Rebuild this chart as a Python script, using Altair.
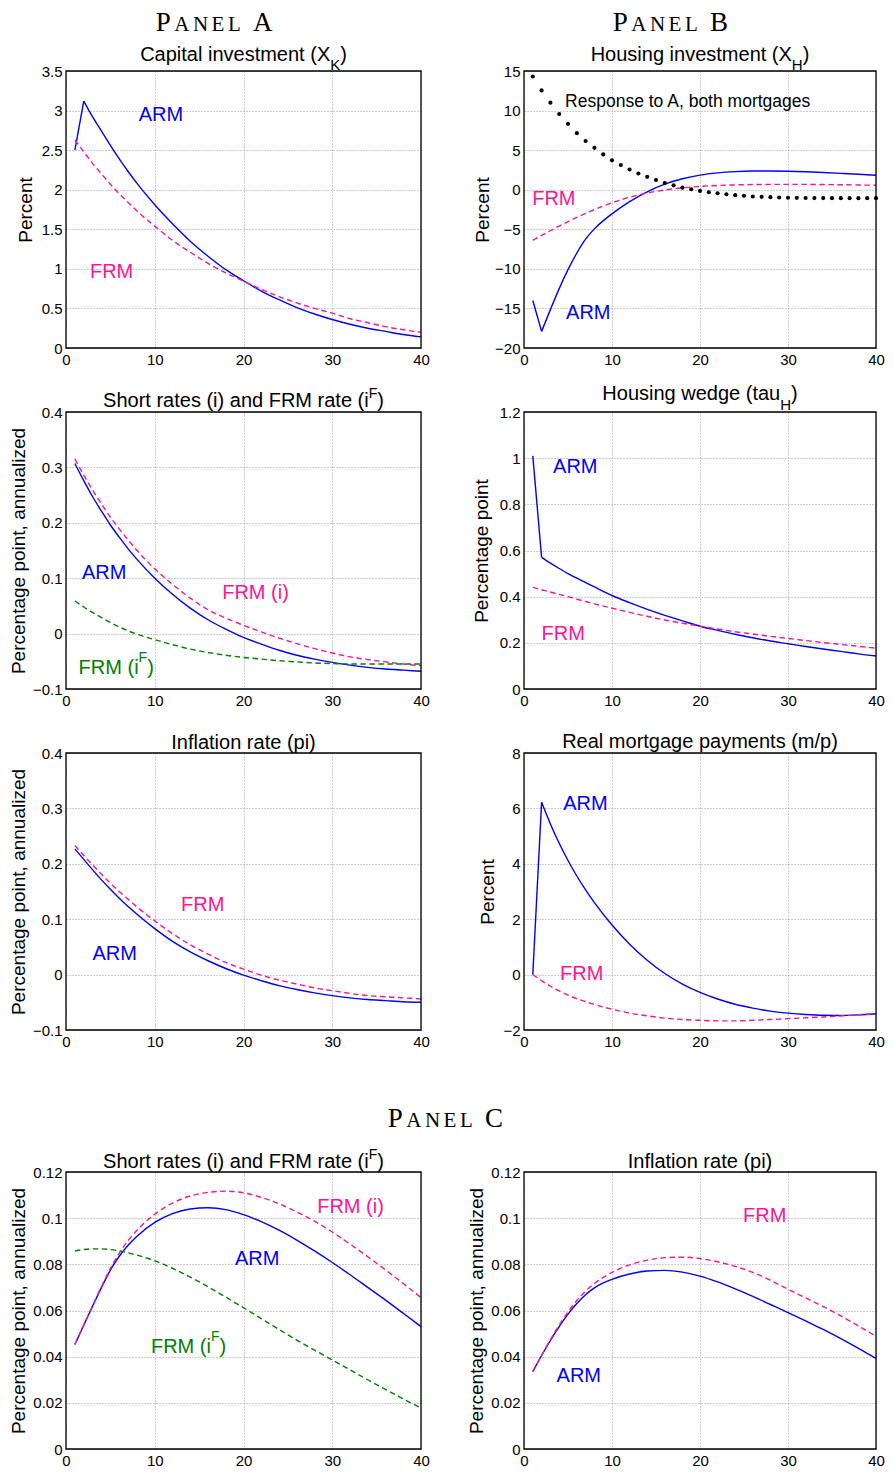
import altair as alt
import pandas as pd

# ---------------- data ----------------
quarters = [1, 2, 3, 4, 5, 6, 7, 8, 10, 12, 14, 16, 18, 20, 22, 24, 26, 28, 30, 32, 34, 36, 38, 40]
quarters_all = list(range(1, 41))

# Panel A, row 1: Capital investment
capital_arm = [2.50, 3.12, 2.92, 2.74, 2.56, 2.39, 2.23, 2.08, 1.81, 1.57, 1.35, 1.16, 0.99, 0.85,
               0.72, 0.61, 0.51, 0.43, 0.36, 0.30, 0.25, 0.21, 0.17, 0.14]
capital_frm = [2.63, 2.48, 2.33, 2.20, 2.07, 1.95, 1.84, 1.73, 1.54, 1.36, 1.21, 1.07, 0.95, 0.845,
               0.74, 0.65, 0.57, 0.50, 0.44, 0.37, 0.32, 0.27, 0.23, 0.20]

# Panel B, row 1: Housing investment
housing_arm = [-14.0, -17.9, -15.15, -12.5, -10.1, -8.0, -6.25, -4.95, -3.05, -1.5, -0.26, 0.70, 1.38, 1.85,
               2.13, 2.29, 2.36, 2.37, 2.34, 2.27, 2.18, 2.07, 1.95, 1.82]
housing_frm = [-6.4, -5.78, -5.18, -4.6, -4.04, -3.5, -2.99, -2.51, -1.65, -0.95, -0.42, -0.03, 0.24, 0.42,
               0.54, 0.61, 0.65, 0.67, 0.68, 0.67, 0.65, 0.63, 0.60, 0.56]
housing_tech = [14.3, 12.55, 11.0, 9.56, 8.32, 7.15, 6.16, 5.29, 4.46, 3.71, 3.13, 2.55, 2.05, 1.63,
                1.22, 0.84, 0.55, 0.26, 0.06, -0.15, -0.32, -0.44, -0.57, -0.69, -0.77, -0.86, -0.90,
                -0.94, -0.98, -1.01, -1.03, -1.05, -1.06, -1.06, -1.07, -1.07, -1.07, -1.07, -1.07, -1.07]

# Panel A, row 2: Short rates and FRM rate
rates_arm = [0.307, 0.276, 0.247, 0.221, 0.196, 0.174, 0.153, 0.134, 0.100, 0.071, 0.046, 0.025, 0.008,
             -0.007, -0.019, -0.030, -0.039, -0.046, -0.052, -0.057, -0.061, -0.064, -0.066, -0.068]
rates_frm_i = [0.315, 0.286, 0.259, 0.234, 0.210, 0.189, 0.169, 0.150, 0.117, 0.089, 0.064, 0.043, 0.028,
               0.015, 0.003, -0.008, -0.018, -0.027, -0.035, -0.042, -0.047, -0.051, -0.055, -0.058]
rates_frm_if = [0.059, 0.048, 0.038, 0.029, 0.020, 0.012, 0.005, -0.001, -0.011, -0.020, -0.028, -0.034,
                -0.039, -0.043, -0.046, -0.049, -0.051, -0.053, -0.054, -0.055, -0.055, -0.055, -0.055, -0.055]

# Panel B, row 2: Housing wedge
wedge_arm = [1.01, 0.57, 0.545, 0.522, 0.500, 0.480, 0.461, 0.442, 0.405, 0.374, 0.345, 0.319, 0.295,
             0.272, 0.254, 0.237, 0.222, 0.208, 0.196, 0.184, 0.173, 0.163, 0.152, 0.143]
wedge_frm = [0.44, 0.43, 0.42, 0.41, 0.40, 0.389, 0.379, 0.369, 0.350, 0.332, 0.315, 0.299, 0.285,
             0.272, 0.260, 0.248, 0.238, 0.228, 0.219, 0.210, 0.201, 0.193, 0.185, 0.177]

# Panel A, row 3: Inflation rate
infl_arm = [0.227, 0.208, 0.189, 0.171, 0.154, 0.138, 0.123, 0.109, 0.083, 0.060, 0.041, 0.025, 0.011,
            -0.001, -0.011, -0.020, -0.027, -0.033, -0.038, -0.042, -0.045, -0.047, -0.049, -0.050]
infl_frm = [0.233, 0.215, 0.198, 0.181, 0.165, 0.150, 0.136, 0.122, 0.097, 0.074, 0.054, 0.037, 0.022,
            0.010, -0.001, -0.010, -0.017, -0.024, -0.029, -0.034, -0.038, -0.040, -0.042, -0.044]

# Panel B, row 3: Real mortgage payments
mpay_arm = [0.0, 6.22, 5.44, 4.74, 4.12, 3.56, 3.06, 2.60, 1.79, 1.10, 0.52, 0.04, -0.34, -0.64,
            -0.88, -1.07, -1.21, -1.32, -1.39, -1.44, -1.47, -1.475, -1.455, -1.415]
mpay_frm = [0.0, -0.22, -0.42, -0.59, -0.74, -0.87, -0.98, -1.08, -1.25, -1.39, -1.49, -1.57, -1.62,
            -1.65, -1.67, -1.67, -1.65, -1.62, -1.59, -1.56, -1.53, -1.49, -1.45, -1.41]

# Panel C: Short rates and FRM rate
c_rates_arm = [0.0453, 0.0536, 0.0619, 0.0700, 0.0775, 0.0835, 0.0883, 0.0922, 0.0982, 0.1020, 0.1040,
               0.1045, 0.1037, 0.1015, 0.0985, 0.0948, 0.0905, 0.0858, 0.0808, 0.0755, 0.0700, 0.0645,
               0.0588, 0.0530]
c_rates_frm_i = [0.0453, 0.0537, 0.0621, 0.0704, 0.0782, 0.0848, 0.0903, 0.0948, 0.1017, 0.1065, 0.1096,
                 0.1112, 0.1117, 0.1110, 0.1090, 0.1062, 0.1027, 0.0987, 0.0940, 0.0888, 0.0833, 0.0776,
                 0.0717, 0.0656]
c_rates_frm_if = [0.0858, 0.0864, 0.0867, 0.0867, 0.0864, 0.0858, 0.0850, 0.0840, 0.0815, 0.0783, 0.0745,
                  0.0703, 0.0658, 0.0612, 0.0565, 0.0518, 0.0472, 0.0428, 0.0386, 0.0343, 0.0300, 0.0258,
                  0.0217, 0.0178]

# Panel C: Inflation rate
c_infl_arm = [0.0335, 0.0405, 0.0470, 0.0530, 0.0584, 0.0630, 0.0668, 0.0698, 0.0735, 0.0758, 0.0771,
              0.0774, 0.0766, 0.0749, 0.0724, 0.0694, 0.0661, 0.0626, 0.0591, 0.0555, 0.0518, 0.0478,
              0.0436, 0.0392]
c_infl_frm = [0.0335, 0.0406, 0.0474, 0.0537, 0.0594, 0.0643, 0.0684, 0.0717, 0.0765, 0.0798, 0.0818,
              0.0829, 0.0831, 0.0825, 0.0811, 0.0791, 0.0765, 0.0731, 0.0692, 0.0655, 0.0617, 0.0577,
              0.0533, 0.0488]

x_ticks = [0, 10, 20, 30, 40]

# ---------------- style / layout ----------------
SANS = "Liberation Sans"
SERIF = "Liberation Serif"
BLUE, PINK, GREEN = "#0000ff", "#ff1493", "#008000"
W_L, W_R, H = 355, 352, 277
DASH = [5.5, 3.5]
FMT = ".6~g"

ARIAL = {' ': 278, '(': 333, ')': 333, ',': 278, '.': 278, '/': 278, 'A': 667, 'B': 667, 'C': 722,
         'F': 611, 'H': 722, 'I': 278, 'K': 667, 'M': 833, 'R': 722, 'S': 667, 'X': 667,
         'a': 556, 'b': 556, 'c': 500, 'd': 556, 'e': 556, 'f': 278, 'g': 556, 'h': 556, 'i': 222,
         'k': 500, 'l': 222, 'm': 833, 'n': 556, 'o': 556, 'p': 556, 'r': 333, 's': 500, 't': 278,
         'u': 556, 'v': 500, 'w': 722, 'y': 500, 'z': 500}


def text_width(s, size):
    return sum(ARIAL.get(c, 556) for c in s) * size / 1000.0


def one(**kw):
    return pd.DataFrame({k: [v] for k, v in kw.items()})


def x_enc(field):
    return alt.X(field, type="quantitative",
                 scale=alt.Scale(domain=[0, 40], nice=False, zero=False),
                 axis=alt.Axis(values=x_ticks, format=FMT, title=None))


def y_enc(field, p):
    return alt.Y(field, type="quantitative",
                 scale=alt.Scale(domain=p["domain"], nice=False, zero=False),
                 axis=alt.Axis(values=p["yticks"], format=FMT, title=p["ytitle"],
                               titleX=p["titleX"], titleY=H / 2))


# small-caps imitation: (font size, left offset) for each letter of "PANEL X"
HEADER_SLOTS = [(27, 0.0), (21, 18.5), (21, 37.2), (21, 55.9), (21, 72.2), (27, 97.3)]


def header_layers(letters, x0, base):
    out = []
    for (size, off), ch in zip(HEADER_SLOTS, letters):
        out.append(alt.Chart(one(a=0)).mark_text(
            text=ch, align="left", baseline="alphabetic", font=SERIF, fontSize=size, color="black"
        ).encode(x=alt.value(x0 + off), y=alt.value(base)))
    return out


def title_layers(segs, width, base):
    total = sum(text_width(t, s) for t, s, d in segs)
    x = width / 2 - total / 2
    out = []
    for t, s, d in segs:
        out.append(alt.Chart(one(a=0)).mark_text(
            text=t, align="left", baseline="alphabetic", font=SANS, fontSize=s, color="black"
        ).encode(x=alt.value(x), y=alt.value(base + d)))
        x += text_width(t, s)
    return out


def line_layer(xs, ys, p, color, dashed, interp):
    df = pd.DataFrame({"x": xs, "y": ys})
    kw = dict(color=color, strokeWidth=1.4, interpolate=interp)
    if dashed:
        kw["strokeDash"] = DASH
    return alt.Chart(df).mark_line(**kw).encode(x=x_enc("x"), y=y_enc("y", p))


def build_panel(p, width, header=None):
    layers = []
    for ys, color, dashed, kink in p["lines"]:
        if kink:
            # sharp corner at the second quarter, smooth afterwards
            layers.append(line_layer(quarters[:2], ys[:2], p, color, dashed, "linear"))
            layers.append(line_layer(quarters[1:], ys[1:], p, color, dashed, "monotone"))
        else:
            layers.append(line_layer(quarters, ys, p, color, dashed, "monotone"))
    if "dots" in p:
        df = pd.DataFrame({"x": quarters_all, "y": p["dots"]})
        layers.append(alt.Chart(df).mark_circle(size=17, color="black", opacity=1).encode(
            x=x_enc("x"), y=y_enc("y", p)))
    for segs, ax, ay, color in p["notes"]:
        dx = 0.0
        for t, s, dy in segs:
            layers.append(alt.Chart(one(x=ax, y=ay)).mark_text(
                text=t, align="left", baseline="middle", font=SANS, fontSize=s, color=color,
                dx=dx, dy=dy).encode(x=x_enc("x"), y=y_enc("y", p)))
            dx += text_width(t, s)
    layers += title_layers(p["title"], width, p["tbase"])
    if header is not None:
        layers += header_layers(header[0], header[1], header[2])
    frame = one(x0=0, x1=40, y0=p["domain"][0], y1=p["domain"][1])
    layers.append(alt.Chart(frame).mark_rect(fillOpacity=0, stroke="black", strokeWidth=1.3).encode(
        x=x_enc("x0"), x2="x1", y=y_enc("y0", p), y2="y1"))
    return alt.layer(*layers).properties(width=width, height=H)


ARM = [("ARM", 20, 0)]
FRM = [("FRM", 20, 0)]
FRM_I = [("FRM (i)", 20, 0)]
FRM_IF = [("FRM (i", 20, 0), ("F", 14, -10), (")", 20, 0)]
PCT_ANN = "Percentage point, annualized"
RATE_TITLE = [("Short rates (i) and FRM rate (i", 20, 0), ("F", 14, -9), (")", 20, 0)]
INFL_TITLE = [("Inflation rate (pi)", 20, 0)]

p1 = dict(domain=[0, 3.5], yticks=[0, 0.5, 1, 1.5, 2, 2.5, 3, 3.5], ytitle="Percent", titleX=-31,
          title=[("Capital investment (X", 20, 0), ("K", 15, 9), (")", 20, 0)], tbase=-10,
          lines=[(capital_arm, BLUE, False, True), (capital_frm, PINK, True, False)],
          notes=[(ARM, 8.2, 2.94, BLUE), (FRM, 2.7, 0.96, PINK)])
p2 = dict(domain=[-20, 15], yticks=[-20, -15, -10, -5, 0, 5, 10, 15], ytitle="Percent", titleX=-31.3,
          title=[("Housing investment (X", 20, 0), ("H", 15, 9), (")", 20, 0)], tbase=-10,
          lines=[(housing_arm, BLUE, False, True), (housing_frm, PINK, True, False)],
          dots=housing_tech,
          notes=[([("Response to A, both mortgages", 17.5, 0)], 4.67, 11.06, "black"),
                 (FRM, 0.93, -1.2, PINK), (ARM, 4.78, -15.6, BLUE)])
p3 = dict(domain=[-0.1, 0.4], yticks=[-0.1, 0, 0.1, 0.2, 0.3, 0.4], ytitle=PCT_ANN, titleX=-38,
          title=RATE_TITLE, tbase=-5.5,
          lines=[(rates_arm, BLUE, False, False), (rates_frm_i, PINK, True, False),
                 (rates_frm_if, GREEN, True, False)],
          notes=[(ARM, 1.79, 0.110, BLUE), (FRM_I, 17.6, 0.073, PINK), (FRM_IF, 1.42, -0.0615, GREEN)])
p4 = dict(domain=[0, 1.2], yticks=[0, 0.2, 0.4, 0.6, 0.8, 1, 1.2], ytitle="Percentage point", titleX=-32.3,
          title=[("Housing wedge (tau", 20, 0), ("H", 15, 10), (")", 20, 0)], tbase=-12,
          lines=[(wedge_arm, BLUE, False, True), (wedge_frm, PINK, True, False)],
          notes=[(ARM, 3.3, 0.963, BLUE), (FRM, 2.0, 0.238, PINK)])
p5 = dict(domain=[-0.1, 0.4], yticks=[-0.1, 0, 0.1, 0.2, 0.3, 0.4], ytitle=PCT_ANN, titleX=-38,
          title=INFL_TITLE, tbase=-4,
          lines=[(infl_arm, BLUE, False, False), (infl_frm, PINK, True, False)],
          notes=[(FRM, 12.96, 0.126, PINK), (ARM, 2.98, 0.037, BLUE)])
p6 = dict(domain=[-2, 8], yticks=[-2, 0, 2, 4, 6, 8], ytitle="Percent", titleX=-26.3,
          title=[("Real mortgage payments (m/p)", 20, 0)], tbase=-5,
          lines=[(mpay_arm, BLUE, False, True), (mpay_frm, PINK, True, False)],
          notes=[(ARM, 4.45, 6.17, BLUE), (FRM, 4.1, 0.02, PINK)])
p7 = dict(domain=[0, 0.12], yticks=[0, 0.02, 0.04, 0.06, 0.08, 0.1, 0.12], ytitle=PCT_ANN, titleX=-38,
          title=RATE_TITLE, tbase=-4.5,
          lines=[(c_rates_arm, BLUE, False, False), (c_rates_frm_i, PINK, True, False),
                 (c_rates_frm_if, GREEN, True, False)],
          notes=[(FRM_I, 28.3, 0.1048, PINK), (ARM, 19.03, 0.0825, BLUE), (FRM_IF, 9.57, 0.0442, GREEN)])
p8 = dict(domain=[0, 0.12], yticks=[0, 0.02, 0.04, 0.06, 0.08, 0.1, 0.12], ytitle=PCT_ANN, titleX=-37.3,
          title=INFL_TITLE, tbase=-4.5,
          lines=[(c_infl_arm, BLUE, False, False), (c_infl_frm, PINK, True, False)],
          notes=[(FRM, 24.9, 0.1009, PINK), (ARM, 3.7, 0.0316, BLUE)])

c1 = build_panel(p1, W_L, header=(["P", "A", "N", "E", "L", "A"], 89.7, -40))
c2 = build_panel(p2, W_R, header=(["P", "A", "N", "E", "L", "B"], 88.7, -40))
c3 = build_panel(p3, W_L)
c4 = build_panel(p4, W_R)
c5 = build_panel(p5, W_L)
c6 = build_panel(p6, W_R)
c7 = build_panel(p7, W_L)
c8 = build_panel(p8, W_R)

# thin header row holding the "Panel C" heading (its text may overflow the flush cell)
header_c = alt.layer(*header_layers(["P", "A", "N", "E", "L", "C"], 321.7, 33)).properties(width=W_L, height=14)
header_blank = alt.Chart(one(a=0)).mark_text(text=" ").encode(
    x=alt.value(0), y=alt.value(0)).properties(width=W_R, height=14)

chart = alt.concat(
    c1, c2, c3, c4, c5, c6, header_c, header_blank, c7, c8,
    columns=2, spacing={"row": 64, "column": 103}, bounds="flush", align="each",
    padding=0, background="white"
).configure_view(
    stroke="transparent"
).configure_axis(
    labelFont=SANS, labelFontSize=15, labelColor="black", labelPadding=4,
    labelFlush=False, labelOverlap=False,
    titleFont=SANS, titleFontSize=19, titleFontWeight="normal", titleColor="black",
    grid=True, gridColor="#9a9a9a", gridDash=[1, 2], gridWidth=1,
    domain=False, ticks=False, tickSize=0
)

chart.save("out.html", embed_options={"renderer": "svg", "actions": False})
